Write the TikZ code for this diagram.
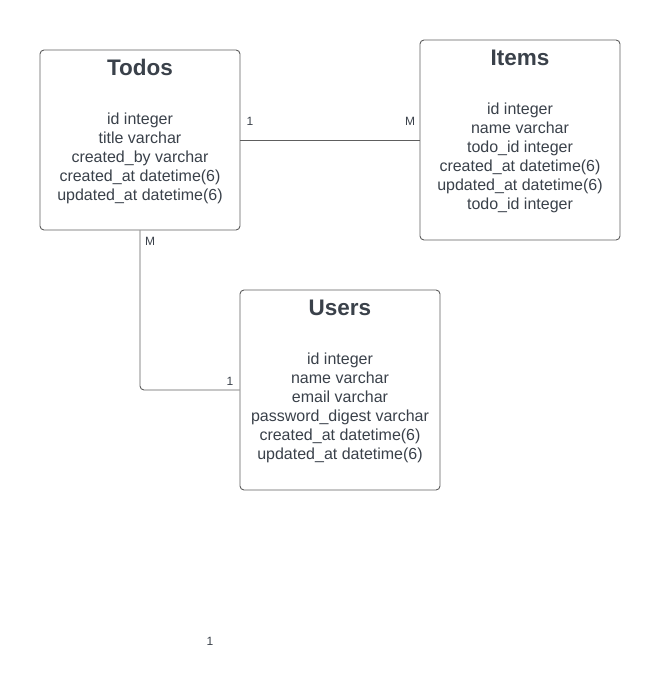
\documentclass[tikz,border=0pt]{standalone}
\usepackage{fontspec}
\setmainfont{Liberation Sans}
\usepackage{xcolor}
\usepackage{tikz}
\usetikzlibrary{calc}
\definecolor{textcolor}{HTML}{3A414A}
\definecolor{edgecolor}{HTML}{5E5E5E}

\begin{document}
\begin{tikzpicture}[x=1pt,y=-1pt,
  table/.style={draw=edgecolor,line width=0.9pt,rounded corners=4pt,minimum width=200pt,inner sep=0pt},
  tabletitle/.style={text=textcolor,font=\fontsize{22.5}{26}\selectfont\bfseries,inner sep=0pt},
  fields/.style={text=textcolor,font=\fontsize{16}{19}\selectfont,align=center,inner sep=0pt},
  card/.style={text=textcolor,font=\fontsize{12}{14}\selectfont,inner sep=0pt},
  link/.style={draw=edgecolor,line width=0.9pt}]
\useasboundingbox (0,0) rectangle (660,690);
%%\draw[step=10pt,color=gray!50,dotted] (0,0) grid (660,690);

\node[table,minimum height=180pt] (todos) at (140,140) {};
\node[table,minimum height=200pt] (items) at (520,140) {};
\node[table,minimum height=200pt] (users) at (340,390) {};

\node[tabletitle] (todostitle) at ($(todos.north)+(0,18)$) {Todos};
\node[tabletitle] (itemstitle) at ($(items.north)+(0,18)$) {Items};
\node[tabletitle] (userstitle) at ($(users.north)+(0,18)$) {Users};

\node[fields] (todosfields) at ($(todos.north)+(0,109)$)
  {id integer\\title varchar\\created\_by varchar\\created\_at datetime(6)\\updated\_at datetime(6)};
\node[fields] (itemsfields) at ($(items.north)+(0,118.5)$)
  {id integer\\name varchar\\todo\_id integer\\created\_at datetime(6)\\updated\_at datetime(6)\\todo\_id integer};
\node[fields] (usersfields) at ($(users.north)+(0,118.5)$)
  {id integer\\name varchar\\email varchar\\password\_digest varchar\\created\_at datetime(6)\\updated\_at datetime(6)};

\draw[link] (todos.east) -- (items.west);
\draw[link,rounded corners=4pt] (todos.south) |- (users.west);

\node[card] (todosone) at (250,121) {1};
\node[card] (itemsmany) at (410,121) {M};
\node[card] (todosmany) at (150,241) {M};
\node[card] (usersone) at (230,381) {1};
\node[card] (loneone) at (210,641) {1};
\end{tikzpicture}
\end{document}
